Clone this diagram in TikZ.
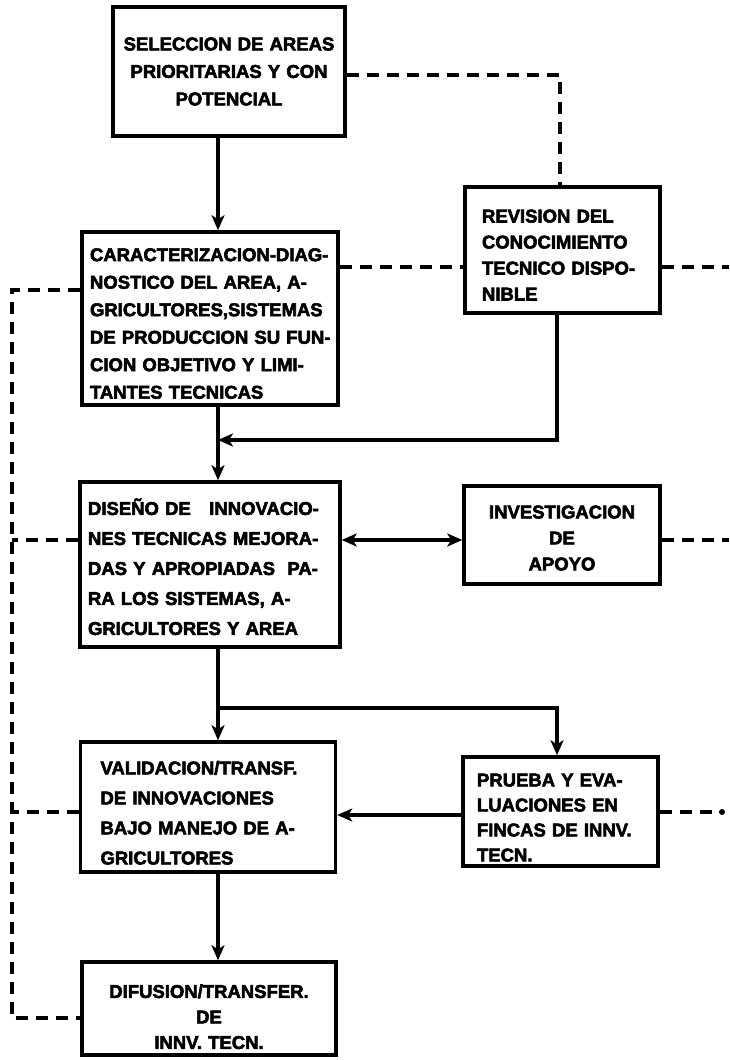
\documentclass[tikz,border=0pt]{standalone}
\usepackage{fontspec}
\newfontfamily\lbl{Liberation Sans}[FakeStretch=1.0,BoldFeatures={FakeBold=3}]
\usetikzlibrary{arrows.meta}
\newcommand\tsh[1]{\rule{0pt}{#1}}
\begin{document}
\begin{tikzpicture}[x=1pt,y=-1pt,
  box/.style={draw,line width=3.5pt,rectangle,inner ysep=0pt,
    font=\lbl\bfseries\fontsize{18.5}{27.5}\selectfont},
  conn/.style={line width=3.5pt},
  arr/.style={conn,-{Stealth[length=15pt,width=13pt,inset=4pt]}},
  darr/.style={conn,{Stealth[length=15pt,width=13pt,inset=4pt]}-{Stealth[length=15pt,width=13pt,inset=4pt]}},
  dsh/.style={line width=3.5pt,dash pattern=on 12pt off 8pt}]
\useasboundingbox (0,0) rectangle (729,1060);
% boxes
\node[box,minimum width=232pt,minimum height=129pt,text width=222pt,align=center,inner xsep=5pt] (b1) at (229,71.5)
  {SELECCION DE AREAS\\PRIORITARIAS Y CON\\POTENCIAL};
\node[box,minimum width=256pt,minimum height=173pt,text width=246pt,align=left,inner xsep=5pt] (b2) at (210,318.5)
  {\tsh{23pt}\hspace*{3pt}CARACTERIZACION-DIAG-\\\hspace*{3pt}NOSTICO DEL AREA, A-\\\hspace*{3pt}GRICULTORES,SISTEMAS\\\hspace*{3pt}DE PRODUCCION SU FUN-\\\hspace*{3pt}CION OBJETIVO Y LIMI-\\\hspace*{3pt}TANTES TECNICAS};
\node[box,minimum width=195pt,minimum height=126pt,text width=173pt,align=left,inner xsep=11pt,
  font=\lbl\bfseries\fontsize{18.5}{26}\selectfont] (rev) at (562.5,250)
  {\tsh{23pt}\hspace*{6pt}REVISION DEL\\\hspace*{6pt}CONOCIMIENTO\\\hspace*{6pt}TECNICO DISPO-\\\hspace*{6pt}NIBLE};
\node[box,minimum width=260pt,minimum height=165pt,text width=250pt,align=left,inner xsep=5pt,
  font=\lbl\bfseries\fontsize{18.5}{30}\selectfont] (b3) at (210,564.5)
  {\tsh{21pt}\hspace*{3pt}DISEÑO DE\ \ \ INNOVACIO-\\\hspace*{3pt}NES TECNICAS MEJORA-\\\hspace*{3pt}DAS Y APROPIADAS\ \ PA-\\\hspace*{3pt}RA LOS SISTEMAS, A-\\\hspace*{3pt}GRICULTORES Y AREA};
\node[box,minimum width=196pt,minimum height=98pt,text width=186pt,align=center,inner xsep=5pt,
  font=\lbl\bfseries\fontsize{18.5}{26}\selectfont] (inv) at (562,535)
  {\tsh{19pt}INVESTIGACION\\DE\\APOYO};
\node[box,minimum width=255pt,minimum height=130pt,text width=235pt,align=left,inner xsep=10pt,
  font=\lbl\bfseries\fontsize{18.5}{30}\selectfont] (b4) at (208,807)
  {\tsh{25pt}\hspace*{10pt}VALIDACION/TRANSF.\\\hspace*{10pt}DE INNOVACIONES\\\hspace*{10pt}BAJO MANEJO DE A-\\\hspace*{10pt}GRICULTORES};
\node[box,minimum width=195pt,minimum height=109pt,text width=181pt,align=left,inner xsep=7pt,
  font=\lbl\bfseries\fontsize{18.5}{25}\selectfont] (pr) at (560.5,811.5)
  {\tsh{25pt}\hspace*{7pt}PRUEBA Y EVA-\\\hspace*{7pt}LUACIONES EN\\\hspace*{7pt}FINCAS DE INNV.\\\hspace*{7pt}TECN.};
\node[box,minimum width=254pt,minimum height=93pt,text width=244pt,align=center,inner xsep=5pt,
  font=\lbl\bfseries\fontsize{18.5}{25.5}\selectfont] (b5) at (209,1008.5)
  {\tsh{30pt}DIFUSION/TRANSFER.\\DE\\INNV. TECN.};
% helper coordinates
\coordinate (sp) at (218,0);
\coordinate (lx) at (12,0);
\coordinate (rx) at (729,0);
\coordinate (t1) at (560,75);
\coordinate (yr) at (0,267);
\coordinate (ld1) at (12,290);
\coordinate (ld2) at (12,1018);
\coordinate (c1) at (557,440);
\coordinate (da) at (0,540);
\coordinate (br) at (218,708);
\coordinate (c2) at (557,708);
\coordinate (ar) at (0,815);
\coordinate (ex) at (722,812);
% solid connectors
\draw[arr] (b1.south -| sp) -- (b2.north -| sp);
\draw[arr] (b2.south -| sp) -- (b3.north -| sp);
\draw[arr] (rev.south -| c1) |- (c1 -| sp);
\draw[darr] (b3.east |- da) -- (inv.west |- da);
\draw[arr] (b3.south -| sp) -- (b4.north -| sp);
\draw[arr] (br) -| (pr.north -| c2);
\draw[arr] (pr.west |- ar) -- (b4.east |- ar);
\draw[arr] (b4.south -| sp) -- (b5.north -| sp);
% dashed connectors
\draw[dsh] (b1.east |- t1) -| (rev.north -| t1);
\draw[dsh] (b2.east |- yr) -- (rev.west |- yr);
\draw[dsh] (rev.east |- yr) -- (rx |- yr);
\draw[dsh] (b2.west |- ld1) -- (ld1) -- (ld2) -- (b5.west |- ld2);
\draw[dsh] (b3.west |- da) -- (lx |- da);
\draw[dsh] (b4.west |- ex) -- (lx |- ex);
\draw[dsh] (inv.east |- da) -- (rx |- da);
\draw[dsh] (pr.east |- ex) -- (ex);
\fill (ex) circle (3pt);
\end{tikzpicture}
\end{document}
